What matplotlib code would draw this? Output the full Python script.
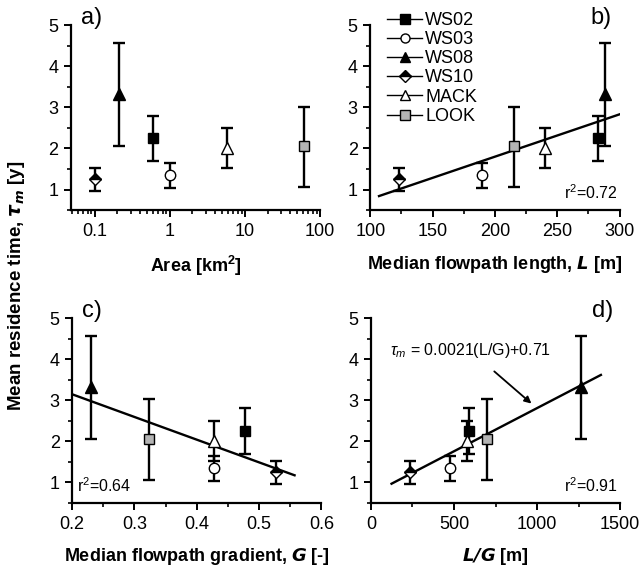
import matplotlib
matplotlib.use("Agg")
import matplotlib.pyplot as plt
from matplotlib.lines import Line2D
import numpy as np

plt.rcParams['font.family'] = ['Liberation Sans', 'DejaVu Sans']
plt.rcParams['mathtext.fontset'] = 'custom'
plt.rcParams['mathtext.rm'] = 'Liberation Sans'
plt.rcParams['mathtext.it'] = 'Liberation Sans:italic'
plt.rcParams['mathtext.bf'] = 'Liberation Sans:bold'

# data
sites = ['WS02', 'WS03', 'WS08', 'WS10', 'MACK', 'LOOK']
tau = [2.25, 1.35, 3.32, 1.25, 2.02, 2.05]
tau_lo = [1.70, 1.03, 2.05, 0.97, 1.53, 1.06]
tau_hi = [2.80, 1.65, 4.57, 1.53, 2.50, 3.02]
area = [0.6, 1.0, 0.21, 0.1, 5.8, 62.0]
length = [283, 190, 288, 123, 240, 215]
gradient = [0.477, 0.428, 0.230, 0.527, 0.427, 0.323]
l_over_g = [593, 475, 1265, 235, 580, 700]

# regression lines (slope, intercept, x range)
fit_b = (0.0103, -0.26, 107, 300)
fit_c = (-5.52, 4.25, 0.20, 0.557)
fit_d = (0.0021, 0.71, 124, 1384)
r2 = {'b': '0.72', 'c': '0.64', 'd': '0.91'}

markers = ['s', 'o', '^', 'D', '^', 's']
faces = ['black', 'white', 'black', 'black', 'white', '#b4b4b4']
fills = ['full', 'full', 'full', 'top', 'full', 'full']
sizes = [7, 7.5, 8.5, 6.5, 8.5, 7]

fig = plt.figure(figsize=(6.44, 5.71), dpi=100)
w, h = 0.387, 0.324
ax_a = fig.add_axes([0.110, 0.632, w, h])
ax_b = fig.add_axes([0.575, 0.632, w, h])
ax_c = fig.add_axes([0.112, 0.119, w, h])
ax_d = fig.add_axes([0.576, 0.119, w, h])

tau = np.array(tau)
yerr = np.array([tau - np.array(tau_lo), np.array(tau_hi) - tau])


def draw(ax, xs):
    for i in range(len(sites)):
        ax.errorbar(xs[i], tau[i], yerr=yerr[:, i:i + 1], fmt='none',
                    ecolor='black', elinewidth=1.7, capsize=4.5, capthick=1.7, zorder=2)
        ax.plot(xs[i], tau[i], marker=markers[i], ms=sizes[i],
                mfc=faces[i], mfcalt='white', fillstyle=fills[i], mec='black', mew=1.0,
                ls='none', zorder=3)
    ax.set_ylim(0.5, 5)
    ax.set_yticks([1, 2, 3, 4, 5])
    ax.set_yticks(np.arange(0.5, 5.01, 0.5), minor=True)
    for s in ['top', 'right']:
        ax.spines[s].set_visible(False)
    for s in ['left', 'bottom']:
        ax.spines[s].set_linewidth(1.6)
    ax.tick_params(which='major', direction='out', length=5, width=1.4, labelsize=13, pad=4)
    ax.tick_params(which='minor', direction='out', length=3, width=1.2)


def fitline(ax, fit):
    m, c, x0, x1 = fit
    xx = np.array([x0, x1])
    ax.plot(xx, m * xx + c, color='black', lw=1.7, zorder=1)


lab = dict(fontweight='bold', fontsize=13, labelpad=10)

# a)
draw(ax_a, area)
ax_a.set_xscale('log')
ax_a.set_xlim(0.048, 100)
ax_a.set_xticks([0.1, 1, 10, 100])
ax_a.set_xticklabels(['0.1', '1', '10', '100'])
ax_a.set_xlabel('Area [km$^\\mathbf{2}$]', **lab)
ax_a.text(0.04, 1.1, 'a)', transform=ax_a.transAxes, fontsize=17, va='top')

# b)
draw(ax_b, length)
fitline(ax_b, fit_b)
ax_b.set_xlim(100, 300)
ax_b.set_xticks([100, 150, 200, 250, 300])
ax_b.set_xticks(np.arange(100, 301, 25), minor=True)
ax_b.set_xlabel('Median flowpath length, $\\mathbfit{L}$ [m]', **lab)
ax_b.text(0.885, 1.1, 'b)', transform=ax_b.transAxes, fontsize=17, va='top')
ax_b.text(0.99, 0.06, 'r$^2$=' + r2['b'], transform=ax_b.transAxes, fontsize=11.5, ha='right')
handles = [Line2D([], [], color='black', lw=1.0, marker=markers[i], ms=6.5 if markers[i] != 'D' else 6,
                  mfc=faces[i], mfcalt='white', fillstyle=fills[i], mec='black', mew=1.0)
           for i in range(len(sites))]
ax_b.legend(handles, sites, loc='upper left', bbox_to_anchor=(0.04, 1.11), frameon=False,
            fontsize=13, handlelength=1.9, handletextpad=0.2, labelspacing=0.12, borderaxespad=0)

# c)
draw(ax_c, gradient)
fitline(ax_c, fit_c)
ax_c.set_xlim(0.2, 0.6)
ax_c.set_xticks([0.2, 0.3, 0.4, 0.5, 0.6])
ax_c.set_xticks(np.arange(0.2, 0.61, 0.05), minor=True)
ax_c.set_xlabel('Median flowpath gradient, $\\mathbfit{G}$ [-]', **lab)
ax_c.text(0.04, 1.1, 'c)', transform=ax_c.transAxes, fontsize=17, va='top')
ax_c.text(0.02, 0.06, 'r$^2$=' + r2['c'], transform=ax_c.transAxes, fontsize=11.5, ha='left')

# d)
draw(ax_d, l_over_g)
fitline(ax_d, fit_d)
ax_d.set_xlim(0, 1500)
ax_d.set_xticks([0, 500, 1000, 1500])
ax_d.set_xticks(np.arange(0, 1501, 250), minor=True)
ax_d.set_xlabel('$\\mathbfit{L/G}$ [m]', **lab)
ax_d.text(0.885, 1.1, 'd)', transform=ax_d.transAxes, fontsize=17, va='top')
ax_d.text(0.99, 0.06, 'r$^2$=' + r2['d'], transform=ax_d.transAxes, fontsize=11.5, ha='right')
ax_d.annotate('$\\tau_m$ = 0.0021(L/G)+0.71', xy=(966, 2.92), xytext=(600, 4.2),
              fontsize=11.5, ha='center', va='center',
              arrowprops=dict(arrowstyle='-|>', color='black', lw=1.3,
                              shrinkA=9, shrinkB=0, mutation_scale=10))

fig.text(0.025, 0.5, 'Mean residence time, $\\mathbfit{\\tau_m}$ [y]', rotation=90,
         fontweight='bold', fontsize=13.5, va='center', ha='center')

fig.savefig('out.png', dpi=100)
